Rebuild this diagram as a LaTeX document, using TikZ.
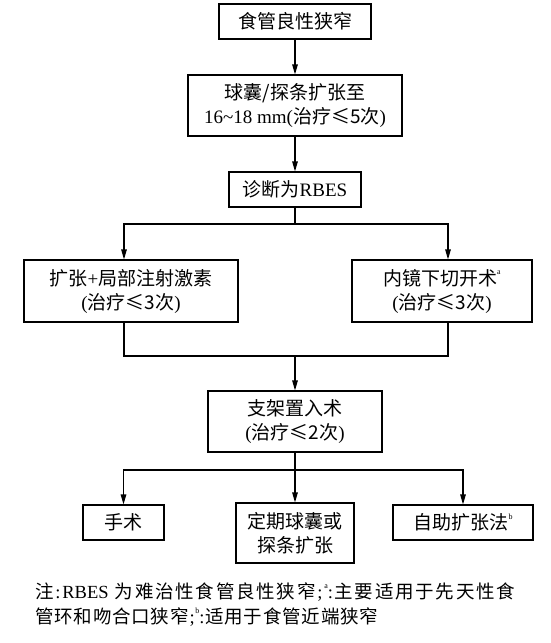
\documentclass[tikz,border=0pt]{standalone}
\usepackage{fontspec}
\setmainfont{Liberation Serif}
\newfontfamily\zh{Noto Sans CJK SC}
\usetikzlibrary{arrows.meta}
\newcommand\Z[1]{{\zh #1}}
\newcommand\sups[1]{\raisebox{0.55em}{\rmfamily\fontsize{8pt}{8pt}\selectfont #1}}
\def\sstop{\sstop}
\def\ssend{\sstop}
\def\spreadit#1{\def\sstmp{#1}\ifx\sstmp\ssend\else\hfill\mbox{#1}\expandafter\spreadit\fi}
\tikzset{
  box/.style={draw, line width=1.1pt, inner sep=0pt, align=center,
    font=\fontsize{19pt}{24pt}\selectfont},
  arr/.style={line width=1.1pt, -{Triangle[length=10pt,width=5.5pt]}},
  ln/.style={line width=1.1pt},
  note/.style={inner sep=0pt, anchor=west, font=\fontsize{18.5pt}{22pt}\selectfont}
}
\begin{document}
\begin{tikzpicture}[x=1pt,y=-1pt]
\useasboundingbox (0,0) rectangle (551,643);
\node[box, minimum width=152pt, minimum height=35pt] (b1) at (295,21.5) {\Z{食管良性狭窄}};
\node[box, minimum width=214pt, minimum height=61pt] (b2) at (295,105.5) {\Z{球囊/探条扩张至}\\16\textasciitilde18 mm(\Z{治疗≤5次})};
\node[box, minimum width=132pt, minimum height=35pt] (b3) at (295,189.5) {\Z{诊断为}RBES};
\node[box, minimum width=214pt, minimum height=62pt] (b4) at (131,291) {\Z{扩张}+\Z{局部注射激素}\\(\Z{治疗≤3次})};
\node[box, minimum width=180pt, minimum height=62pt] (b5) at (442,291) {\Z{内镜下切开术}\sups{a}\\(\Z{治疗≤3次})};
\node[box, minimum width=174pt, minimum height=61pt] (b6) at (295,421.5) {\Z{支架置入术}\\(\Z{治疗≤2次})};
\node[box, minimum width=81pt, minimum height=35pt] (b7) at (123.5,522.5) {\Z{手术}};
\node[box, minimum width=118pt, minimum height=60pt] (b8) at (295,533) {\Z{定期球囊或}\\\Z{探条扩张}};
\node[box, minimum width=140pt, minimum height=35pt] (b9) at (463,522.5) {\Z{自助扩张法}\sups{b}};
\coordinate (j1) at (295,224);
\coordinate (j1L) at (124,224);
\coordinate (j1R) at (448,224);
\coordinate (j2) at (295,356);
\coordinate (j3) at (295,470);
\draw[arr] (b1.south) -- (b2.north);
\draw[arr] (b2.south) -- (b3.north);
\draw[ln] (b3.south) -- (j1);
\draw[arr] (j1) -| (b4.north -| j1L);
\draw[arr] (j1) -| (b5.north -| j1R);
\draw[ln] (b4.south -| j1L) |- (j2);
\draw[ln] (b5.south -| j1R) |- (j2);
\draw[arr] (j2) -- (b6.north);
\draw[ln] (b6.south) -- (j3);
\draw[arr] (j3) -| (b7.north);
\draw[arr] (j3) -- (b8.north);
\draw[arr] (j3) -| (b9.north);
\node[note] (n1) at (35,592) {\hbox to 480pt{\zh 注\spreadit{\rmfamily :}{\rmfamily RBES\ }为难治性食管良性狭窄{\rmfamily ;}{\sups{a}\rmfamily :}主要适用于先天性食\sstop}};
\node[note] (n2) at (35,617) {\hbox to 343pt{\zh 管\spreadit 环和吻合口狭窄{\rmfamily ;}{\sups{b}\rmfamily :}适用于食管近端狭窄\sstop}};
\end{tikzpicture}
\end{document}
